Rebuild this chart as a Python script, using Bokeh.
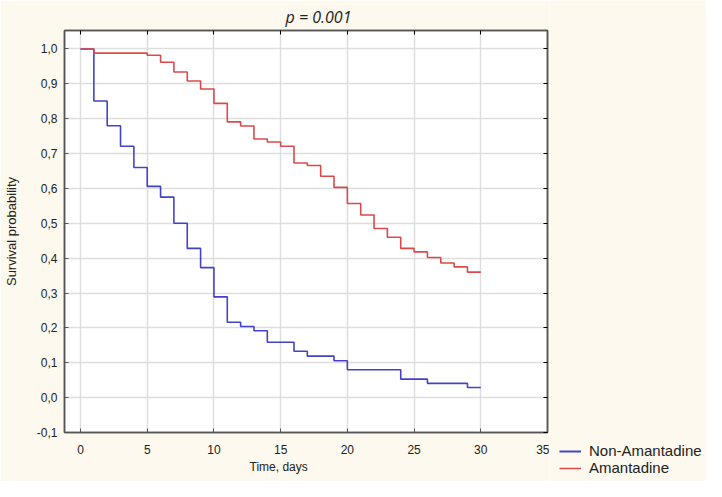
from bokeh.plotting import figure
from bokeh.layouts import row
from bokeh.models import LinearAxis, FixedTicker, Legend, LegendItem, Range1d, Title
from bokeh.embed import file_html
from bokeh.resources import INLINE

# ---- data ----
non_t = [0, 1, 2, 3, 4, 5, 6, 7, 8, 9, 10, 11, 12, 13, 14, 16, 17, 19, 20, 24, 26, 29, 30]
non_s = [1.0, 0.851, 0.78, 0.721, 0.66, 0.606, 0.575, 0.50, 0.428, 0.373, 0.289, 0.216,
         0.204, 0.192, 0.159, 0.133, 0.119, 0.106, 0.080, 0.053, 0.041, 0.029, 0.029]

ama_t = [0, 1, 5, 6, 7, 8, 9, 10, 11, 12, 13, 14, 15, 16, 17, 18, 19, 20, 21, 22, 23,
         24, 25, 26, 27, 28, 29, 30]
ama_s = [1.0, 0.988, 0.982, 0.962, 0.934, 0.908, 0.885, 0.844, 0.791, 0.779, 0.742, 0.733,
         0.721, 0.673, 0.666, 0.635, 0.603, 0.557, 0.524, 0.485, 0.460, 0.428, 0.418, 0.402,
         0.386, 0.375, 0.36, 0.36]

x_ticks = [0, 5, 10, 15, 20, 25, 30, 35]
y_ticks = [-0.1, 0.0, 0.1, 0.2, 0.3, 0.4, 0.5, 0.6, 0.7, 0.8, 0.9, 1.0]
y_tick_labels = ["-0,1", "0,0", "0,1", "0,2", "0,3", "0,4", "0,5", "0,6", "0,7", "0,8", "0,9", "1,0"]
series_names = ["Non-Amantadine", "Amantadine"]
title_text = "p = 0.001"
x_label = "Time, days"
y_label = "Survival probability"

BG = "#FDF9EE"
FRAME = "#555555"
FONT = "Liberation Sans"
BLUE = "#4343C8"
RED = "#DA4A4A"

p = figure(width=549, height=481, output_backend="svg", toolbar_location=None,
           x_range=Range1d(-1.2, 35), y_range=Range1d(-0.1, 1.053),
           min_border_left=64, min_border_right=2, min_border_top=29, min_border_bottom=49)
p.border_fill_color = BG
p.background_fill_color = "white"
p.outline_line_color = FRAME
p.outline_line_width = 1.5

p.title.text = title_text
p.title.text_font = "Open Sans"
p.title.text_font_style = "italic"
p.title.text_font_size = "16px"
p.title.text_color = "#222222"
p.title.align = "left"
p.title.offset = 221
p.title.standoff = 6

r1 = p.step(non_t, non_s, mode="after", line_color=BLUE, line_width=1.6)
r2 = p.step(ama_t, ama_s, mode="after", line_color=RED, line_width=1.6)

for ax in (p.xaxis[0], p.yaxis[0]):
    ax.major_tick_in = 4
    ax.major_tick_out = 0
    ax.minor_tick_in = 0
    ax.minor_tick_out = 0
    ax.axis_line_color = FRAME
    ax.axis_line_width = 1.5
    ax.major_tick_line_color = FRAME
    ax.major_label_text_font = FONT
    ax.major_label_text_font_size = "12px"
    ax.major_label_text_color = "#222222"
    ax.axis_label_text_font = FONT
    ax.axis_label_text_font_style = "normal"
    ax.axis_label_text_color = "#222222"

p.xaxis[0].ticker = FixedTicker(ticks=x_ticks)
p.xaxis[0].major_label_standoff = 12

p.yaxis[0].ticker = FixedTicker(ticks=y_ticks)
p.yaxis[0].major_label_overrides = dict(zip(y_ticks, y_tick_labels))
p.yaxis[0].major_label_standoff = 7
p.yaxis[0].axis_label = y_label
p.yaxis[0].axis_label_text_font_size = "13px"
p.yaxis[0].axis_label_standoff = 15

xt = Title(text=x_label, align="left", offset=185, standoff=2,
           text_font=FONT, text_font_size="12px", text_font_style="normal",
           text_color="#222222")
p.add_layout(xt, "below")

top = LinearAxis(ticker=FixedTicker(ticks=x_ticks), major_label_text_font_size="0px",
                 major_tick_in=4, major_tick_out=0, minor_tick_in=0, minor_tick_out=0,
                 axis_line_color=FRAME, axis_line_width=1.5, major_label_standoff=0)
right = LinearAxis(ticker=FixedTicker(ticks=y_ticks), major_label_text_font_size="0px",
                   major_tick_in=4, major_tick_out=0, minor_tick_in=0, minor_tick_out=0,
                   axis_line_color=FRAME, axis_line_width=1.5, major_label_standoff=0)
p.add_layout(top, "above")
p.add_layout(right, "right")

p.xgrid.ticker = FixedTicker(ticks=x_ticks)
p.ygrid.ticker = FixedTicker(ticks=y_ticks)
p.xgrid.grid_line_color = "#DEDEDE"
p.ygrid.grid_line_color = "#DEDEDE"
p.xgrid.grid_line_width = 1.5
p.ygrid.grid_line_width = 1.5

# legend holder to the right of the chart (its lines lie outside its own view)
q = figure(width=157, height=481, output_backend="svg", toolbar_location=None,
           x_range=Range1d(100, 101), y_range=Range1d(100, 101),
           min_border=0, x_axis_type=None, y_axis_type=None)
q.frame_align = False
q.border_fill_color = BG
q.background_fill_color = BG
q.outline_line_color = None
q.xgrid.visible = False
q.ygrid.visible = False
l1 = q.line(non_t, non_s, line_color=BLUE, line_width=2)
l2 = q.line(ama_t, ama_s, line_color=RED, line_width=1.5)

legend = Legend(items=[LegendItem(label=series_names[0], renderers=[l1]),
                       LegendItem(label=series_names[1], renderers=[l2])],
                location=(10, 5), orientation="vertical",
                label_text_font=FONT, label_text_font_size="15px", label_text_color="#222222",
                label_height=12, glyph_width=22, glyph_height=12, label_standoff=8, spacing=-4,
                padding=0, margin=0, border_line_color=None, background_fill_alpha=0)
q.add_layout(legend, "center")

layout = row(p, q, spacing=0)
html = file_html(layout, INLINE)
open("out.html", "w").write(html)
